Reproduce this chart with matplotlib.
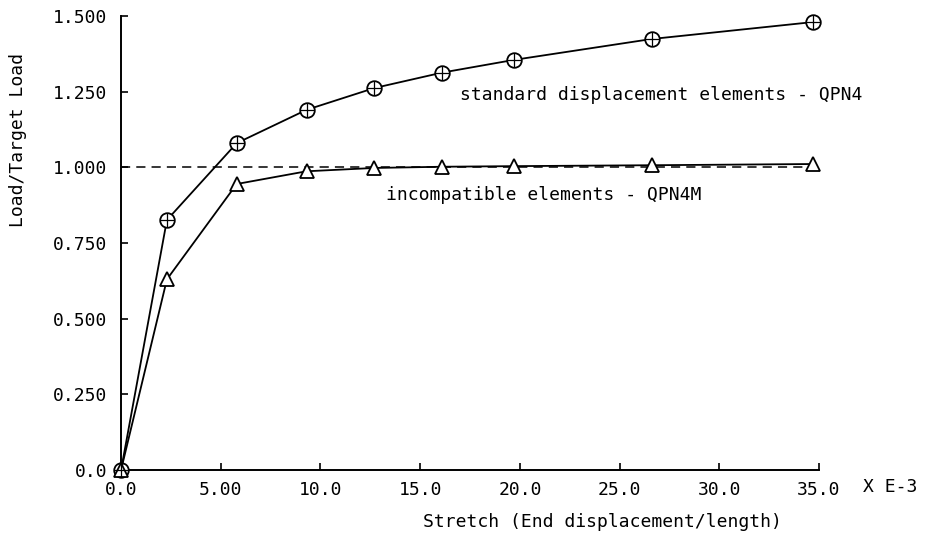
import numpy as np
import matplotlib
matplotlib.use('Agg')
import matplotlib.pyplot as plt

plt.rcParams['font.family'] = ['DejaVu Sans Mono']

# stretch values (x 1e-3)
stretch = [0.0, 2.3, 5.8, 9.3, 12.7, 16.1, 19.7, 26.6, 34.7]
# standard displacement elements - QPN4
load_qpn4 = [0.0, 0.826, 1.08, 1.19, 1.262, 1.313, 1.355, 1.424, 1.48]
# incompatible elements - QPN4M
load_qpn4m = [0.0, 0.63, 0.945, 0.987, 0.998, 1.002, 1.004, 1.007, 1.011]

yticks = [0.0, 0.25, 0.5, 0.75, 1.0, 1.25, 1.5]
ytick_labels = ['0.0', '0.250', '0.500', '0.750', '1.000', '1.250', '1.500']
xticks = [0, 5, 10, 15, 20, 25, 30, 35]
xtick_labels = ['0.0', '5.00', '10.0', '15.0', '20.0', '25.0', '30.0', '35.0']

fig = plt.figure(figsize=(9.34, 5.41), dpi=100)
ax = fig.add_axes([0.1296, 0.1312, 0.7473, 0.8392])

lw = 1.3
ax.plot([0, 35], [1.0, 1.0], color='black', lw=1.1, linestyle=(0, (6, 4)), zorder=1)

ax.plot(stretch, load_qpn4, color='black', lw=lw, marker='o', markersize=10.5,
        markerfacecolor='white', markeredgecolor='black', markeredgewidth=lw,
        clip_on=False, zorder=3)
ax.plot(stretch, load_qpn4, linestyle='None', marker='+', markersize=10.5,
        markeredgecolor='black', markeredgewidth=0.9, clip_on=False, zorder=4)
ax.plot(stretch, load_qpn4m, color='black', lw=lw, marker='^', markersize=10,
        markerfacecolor='white', markeredgecolor='black', markeredgewidth=lw,
        clip_on=False, zorder=3)

ax.text(17.0, 1.239, 'standard displacement elements - QPN4', fontsize=13,
        va='center', ha='left')
ax.text(13.3, 0.908, 'incompatible elements - QPN4M', fontsize=13,
        va='center', ha='left')

ax.set_xlim(0, 35)
ax.set_ylim(0, 1.5)
ax.set_xticks(xticks)
ax.set_xticklabels(xtick_labels, fontsize=13)
ax.set_yticks(yticks)
ax.set_yticklabels(ytick_labels, fontsize=13)
ax.tick_params(direction='in', length=5, width=1.2, pad=8)
ax.tick_params(axis='y', pad=10)

for side in ['top', 'right']:
    ax.spines[side].set_visible(False)
for side in ['left', 'bottom']:
    ax.spines[side].set_linewidth(1.4)

fig.text(863 / 934, 1 - 487 / 541, 'X E-3', fontsize=13, ha='left', va='center')
fig.text(602 / 934, 1 - 522 / 541, 'Stretch (End displacement/length)',
         fontsize=13, ha='center', va='center')
fig.text(18 / 934, 1 - 140 / 541, 'Load/Target Load', fontsize=13,
         rotation=90, ha='center', va='center')

fig.savefig('out.png', dpi=100)
